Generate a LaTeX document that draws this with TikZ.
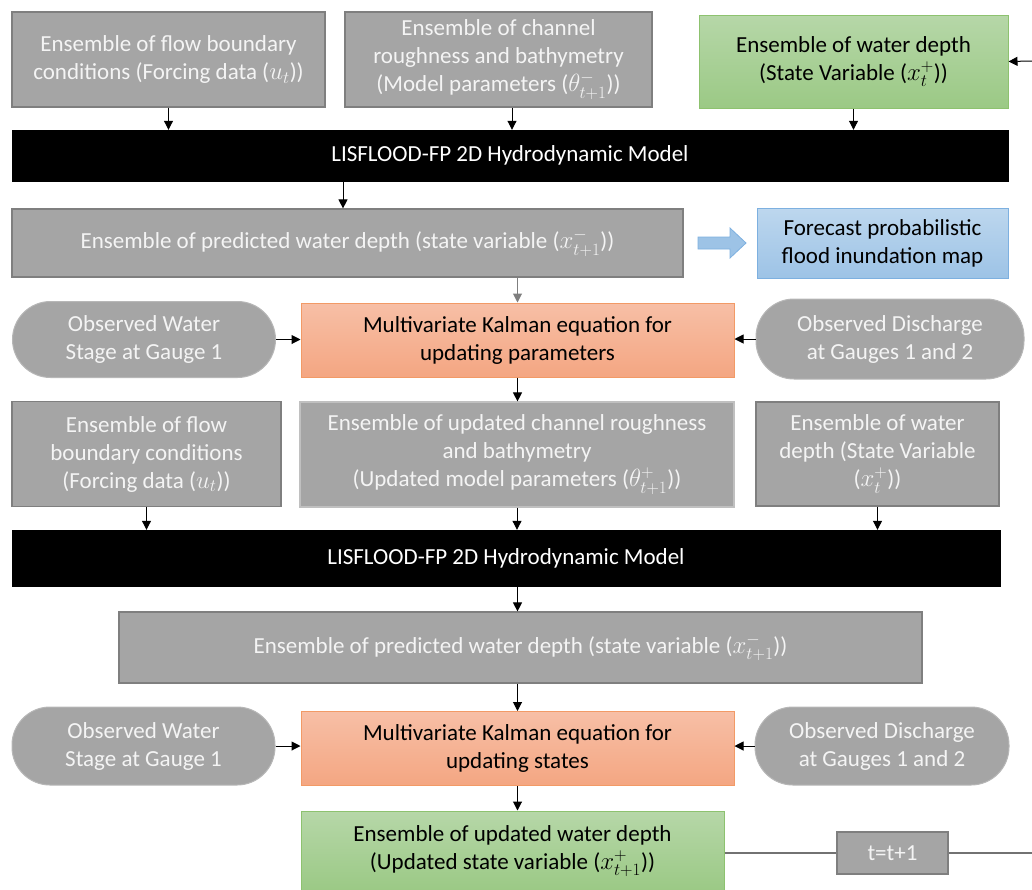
\documentclass[tikz,border=0pt]{standalone}
\usepackage{fontspec}
\setmainfont{Carlito}
\usetikzlibrary{arrows.meta,calc}
\definecolor{gfill}{HTML}{A5A5A5}
\definecolor{gline}{HTML}{7F7F7F}
\definecolor{gtext}{HTML}{F4F4F4}
\definecolor{greentop}{HTML}{B6D7A8}
\definecolor{greenbot}{HTML}{9BC985}
\definecolor{greenline}{HTML}{8DC26F}
\definecolor{orangetop}{HTML}{F7BFA6}
\definecolor{orangebot}{HTML}{F4A682}
\definecolor{orangeline}{HTML}{F29A66}
\definecolor{bluetop}{HTML}{BDD7EE}
\definecolor{bluebot}{HTML}{9DC3E6}
\definecolor{blueline}{HTML}{7DB0E0}
\tikzset{
  base/.style={inner sep=0pt, align=center, font=\fontsize{23}{28}\selectfont},
  graybox/.style={base, rectangle, fill=gfill, draw=gline, line width=1.2pt, text=gtext},
  lgraybox/.style={base, rectangle, fill=gfill, draw=gfill!70!white, line width=1.2pt, text=gtext},
  pill/.style={base, rectangle, rounded corners=38pt, fill=gfill, draw=gfill!80!white, line width=1pt, text=gtext},
  greenbox/.style={base, rectangle, top color=greentop, bottom color=greenbot, draw=greenline, line width=1pt, text=black},
  orangebox/.style={base, rectangle, top color=orangetop, bottom color=orangebot, draw=orangeline, line width=1pt, text=black},
  bluebox/.style={base, rectangle, top color=bluetop, bottom color=bluebot, draw=blueline, line width=1pt, text=black},
  blackbar/.style={base, rectangle, fill=black, draw=black, text=white},
  arr/.style={-{Triangle[length=9pt,width=9pt]}, line width=1pt, black},
  garr/.style={-{Triangle[length=9pt,width=9pt]}, line width=1pt, gline},
  loopline/.style={line width=1.5pt, gline!90!black},
  blockarrow/.style={fill=bluebot, draw=blueline, line width=0.8pt},
}
\begin{document}
\begin{tikzpicture}[x=1pt,y=-1pt]
\useasboundingbox (0,0) rectangle (1032,889);
% row 1
\node[graybox, minimum width=313pt, minimum height=95pt] (u1) at (168.5,59.5)
  {Ensemble of flow boundary\\conditions (Forcing data ($u_t$))};
\node[graybox, minimum width=307pt, minimum height=95pt] (p1) at (498.5,59.5)
  {Ensemble of channel\\roughness and bathymetry\\(Model parameters ($\theta^{-}_{t+1}$))};
\node[greenbox, minimum width=309pt, minimum height=93pt] (x1) at (853.5,61.5)
  {Ensemble of water depth\\(State Variable ($x^{+}_{t}$))};
\coordinate (loopin) at (1032,61);
% bar 1
\node[blackbar, minimum width=996pt, minimum height=51pt] (m1) at (510,155.5)
  {LISFLOOD-FP 2D Hydrodynamic Model};
% predicted 1
\node[graybox, minimum width=671pt, minimum height=68pt] (f1) at (347.5,243)
  {Ensemble of predicted water depth (state variable ($x^{-}_{t+1}$))};
\draw[blockarrow] (698,237) -- (730,237) -- (730,228) -- (746,243) -- (730,258) -- (730,249) -- (698,249) -- cycle;
\node[bluebox, minimum width=251pt, minimum height=70pt] (map) at (882.5,243)
  {Forecast probabilistic\\flood inundation map};
% kalman 1
\node[orangebox, minimum width=433pt, minimum height=74pt] (k1) at (517.5,340)
  {Multivariate Kalman equation for\\updating parameters};
\node[pill, minimum width=263pt, minimum height=76pt] (o1) at (144,339.5)
  {Observed Water\\Stage at Gauge 1};
\node[pill, minimum width=268pt, minimum height=80pt] (q1) at (890,339)
  {Observed Discharge\\at Gauges 1 and 2};
% row 2
\node[graybox, minimum width=269pt, minimum height=105pt] (u2) at (146.5,454)
  {Ensemble of flow\\boundary conditions\\(Forcing data ($u_t$))};
\node[lgraybox, minimum width=434pt, minimum height=105pt] (p2) at (517,454.5)
  {Ensemble of updated channel roughness\\and bathymetry\\(Updated model parameters ($\theta^{+}_{t+1}$))};
\node[graybox, minimum width=243pt, minimum height=104pt] (x2) at (877.5,454)
  {Ensemble of water\\depth (State Variable\\($x^{+}_{t}$))};
% bar 2
\node[blackbar, minimum width=988pt, minimum height=56pt] (m2) at (506,558)
  {LISFLOOD-FP 2D Hydrodynamic Model};
% predicted 2
\node[graybox, minimum width=803pt, minimum height=71pt] (f2) at (520.5,647.5)
  {Ensemble of predicted water depth (state variable ($x^{-}_{t+1}$))};
% kalman 2
\node[orangebox, minimum width=433pt, minimum height=74pt] (k2) at (517.5,748.5)
  {Multivariate Kalman equation for\\updating states};
\node[pill, minimum width=263pt, minimum height=78pt] (o2) at (143.5,746)
  {Observed Water\\Stage at Gauge 1};
\node[pill, minimum width=254pt, minimum height=78pt] (q2) at (882,746)
  {Observed Discharge\\at Gauges 1 and 2};
% updated state
\node[greenbox, minimum width=423pt, minimum height=80pt] (x3) at (512.5,851)
  {Ensemble of updated water depth\\(Updated state variable ($x^{+}_{t+1}$))};
\node[graybox, minimum width=111pt, minimum height=42pt, line width=1.5pt] (tt) at (892.5,853) {t=t+1};
\coordinate (loopout) at (1032,853);
% connectors
\draw[arr] (loopin) -- (x1.east);
\draw[arr] (u1.south) -- (u1.south |- m1.north);
\draw[arr] ([xshift=13.5pt]p1.south) -- ([xshift=13.5pt]p1.south |- m1.north);
\draw[arr] (x1.south) -- (x1.south |- m1.north);
\draw[arr] ([xshift=-4.5pt]m1.south -| f1.south) -- ([xshift=-4.5pt]f1.north);
\draw[garr] (f1.south -| k1.north) -- (k1.north);
\draw[arr] (o1.east) -- (o1.east -| k1.west);
\draw[arr] (q1.west) -- (q1.west -| k1.east);
\draw[arr] (k1.south) -- (k1.south |- p2.north);
\draw[arr] (u2.south) -- (u2.south |- m2.north);
\draw[arr] (p2.south) -- (p2.south |- m2.north);
\draw[arr] (x2.south) -- (x2.south |- m2.north);
\draw[arr] (m2.south -| k2.north) -- (k2.north |- f2.north);
\draw[arr] (f2.south -| k2.north) -- (k2.north);
\draw[arr] (o2.east) -- (o2.east -| k2.west);
\draw[arr] (q2.west) -- (q2.west -| k2.east);
\draw[arr] (k2.south) -- (k2.south |- x3.north);
\draw[loopline] (x3.east |- tt.west) -- (tt.west);
\draw[loopline] (tt.east) -- (loopout);
\end{tikzpicture}
\end{document}
